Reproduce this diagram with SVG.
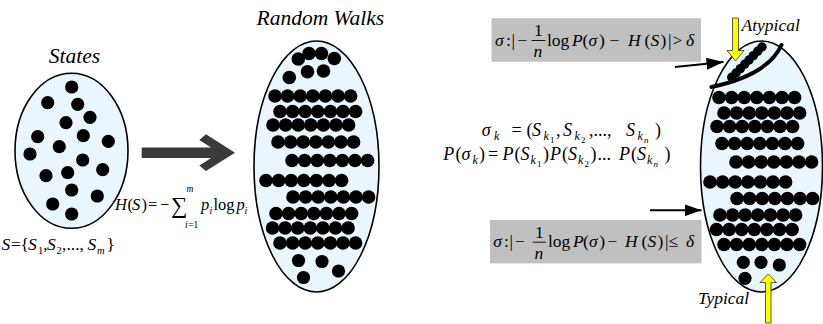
<svg xmlns="http://www.w3.org/2000/svg" width="823" height="324" viewBox="0 0 823 324" font-family="'Liberation Serif','Times New Roman',serif">
<style>
.ell{fill:#EAF6FD;stroke:#000;stroke-width:1.6}
.dot{fill:#000}
.t{font-family:"Liberation Serif","Times New Roman",serif;fill:#000}
.i{font-style:italic}
.box{fill:#C0C0C0}
.yel{fill:#FFFF00;stroke:#333;stroke-width:0.8}
.blk{stroke:#000;stroke-width:2;fill:none}
.bar{stroke:#000;stroke-width:0.9}
</style>
<defs>
<marker id="ah" markerUnits="userSpaceOnUse" markerWidth="17" markerHeight="12" viewBox="0 0 17 12" refX="17" refY="6" orient="auto">
<path d="M0,0 L17,6 L0,12 z" fill="#000"/>
</marker>
<g id="row7" class="dot">
<circle cx="0" cy="0" r="6.8"/><circle cx="12.6" cy="0" r="6.8"/><circle cx="25.2" cy="0" r="6.8"/><circle cx="37.8" cy="0" r="6.8"/><circle cx="50.4" cy="0" r="6.8"/><circle cx="63" cy="0" r="6.8"/><circle cx="75.6" cy="0" r="6.8"/>
</g>
<g id="rows">
<use href="#row7" x="275" y="96"/>
<use href="#row7" x="280" y="111.5"/>
<use href="#row7" x="273" y="125"/>
<use href="#row7" x="278" y="142"/>
<use href="#row7" x="292" y="160.5"/>
<use href="#row7" x="266" y="180.5"/>
<use href="#row7" x="293" y="197"/>
<use href="#row7" x="276" y="213.5"/>
<use href="#row7" x="272.5" y="228"/>
<use href="#row7" x="280" y="243"/>
</g>
</defs>

<g id="states">
<text class="t i" x="74.5" y="63" font-size="21.5" text-anchor="middle">States</text>
<ellipse class="ell" cx="71.5" cy="150.8" rx="56.5" ry="77.5"/>
<g class="dot">
<circle cx="71.7" cy="87" r="6.6"/><circle cx="47.7" cy="102.7" r="6.6"/><circle cx="77.7" cy="104.3" r="6.6"/>
<circle cx="90" cy="117.3" r="6.6"/><circle cx="66" cy="122.7" r="6.6"/><circle cx="37.7" cy="136.7" r="6.6"/>
<circle cx="83.3" cy="135.7" r="6.6"/><circle cx="108.3" cy="141.3" r="6.6"/><circle cx="59.3" cy="146.7" r="6.6"/>
<circle cx="30" cy="154" r="6.6"/><circle cx="82.7" cy="160" r="6.6"/><circle cx="46" cy="175.7" r="6.6"/>
<circle cx="67.7" cy="172.7" r="6.6"/><circle cx="102.7" cy="169.7" r="6.6"/><circle cx="71.7" cy="190" r="6.6"/>
<circle cx="97.3" cy="196" r="6.6"/><circle cx="52.7" cy="204" r="6.6"/><circle cx="71.7" cy="214" r="6.6"/>
</g>
</g>

<g id="state-set" class="t">
<text font-size="17.5">
<tspan class="i" x="1.5" y="250">S</tspan>
<tspan x="11" y="250">=</tspan>
<tspan x="20.5" y="250">{</tspan>
<tspan class="i" x="28" y="250">S</tspan>
<tspan x="38" y="254" font-size="10.5">1</tspan>
<tspan x="43.3" y="250">,</tspan>
<tspan class="i" x="47" y="250">S</tspan>
<tspan x="56.5" y="254" font-size="10.5">2</tspan>
<tspan x="62" y="250">,...,</tspan>
<tspan class="i" x="87.5" y="250">S</tspan>
<tspan class="i" x="97" y="254" font-size="10.5">m</tspan>
<tspan x="106.5" y="250">}</tspan>
</text>
</g>

<g id="entropy" class="t">
<text font-size="16.5">
<tspan class="i" x="115" y="210">H</tspan>
<tspan x="127.5" y="210">(</tspan>
<tspan class="i" x="132" y="210">S</tspan>
<tspan x="141.5" y="210">)</tspan>
<tspan x="148" y="210">=</tspan>
<tspan x="160" y="210">−</tspan>
<tspan x="171" y="213" font-size="23">∑</tspan>
<tspan class="i" x="186.5" y="192" font-size="9.5">m</tspan>
<tspan class="i" x="185" y="227.5" font-size="9.5">i</tspan>
<tspan x="188.2" y="227.5" font-size="9.5">=1</tspan>
<tspan class="i" x="201" y="210">p</tspan>
<tspan class="i" x="209.5" y="213.5" font-size="10">i</tspan>
<tspan x="213.5" y="210">log</tspan>
<tspan class="i" x="236.5" y="210">p</tspan>
<tspan class="i" x="244.5" y="213.5" font-size="10">i</tspan>
</text>
</g>

<g id="random-walks">
<text class="t i" x="256.5" y="25" font-size="21.5">Random Walks</text>
<ellipse class="ell" cx="316.5" cy="166.5" rx="62.5" ry="125.5"/>
<g class="dot">
<circle cx="298.3" cy="59" r="6.8"/><circle cx="309" cy="53.5" r="6.8"/><circle cx="321.5" cy="53.5" r="6.8"/><circle cx="334.3" cy="58.5" r="6.8"/>
<circle cx="289.3" cy="77.5" r="6.8"/><circle cx="307.5" cy="71.7" r="6.8"/><circle cx="323.5" cy="71" r="6.8"/>
<circle cx="298.5" cy="260.5" r="6.6"/><circle cx="322" cy="261.5" r="6.6"/><circle cx="303.5" cy="277.5" r="6.6"/><circle cx="338.5" cy="271" r="6.6"/>
</g>
<use href="#rows"/>
</g>

<g id="typical-set">
<ellipse class="ell" cx="761.5" cy="166.5" rx="61" ry="125.5"/>
<path d="M711.5,87 Q768,75 781.5,45" fill="none" stroke="#000" stroke-width="4" stroke-linecap="round"/>
<g class="dot">
<circle cx="731.7" cy="77.3" r="4.7"/><circle cx="736" cy="73" r="4.7"/><circle cx="740.4" cy="68.6" r="4.7"/><circle cx="744.7" cy="64.3" r="4.7"/>
<circle cx="749" cy="60" r="4.7"/><circle cx="753.4" cy="55.6" r="4.7"/><circle cx="757.7" cy="51.3" r="4.7"/><circle cx="762" cy="47" r="4.7"/>
<circle cx="743.3" cy="262.3" r="6.6"/><circle cx="761" cy="262.3" r="6.6"/><circle cx="779.3" cy="265" r="6.6"/><circle cx="745" cy="278.3" r="6.6"/>
</g>
<use href="#rows" x="444" y="1.5"/>
</g>

<g id="sequence-formula" class="t">
<text font-size="18">
<tspan class="i" x="481.7" y="136">σ</tspan>
<tspan class="i" x="494" y="140" font-size="12">k</tspan>
<tspan x="511.5" y="136">=</tspan>
<tspan x="526.5" y="136">(</tspan>
<tspan class="i" x="532" y="136">S</tspan>
<tspan class="i" x="543.5" y="140" font-size="12">k</tspan>
<tspan x="550" y="142.5" font-size="9">1</tspan>
<tspan x="556" y="136">,</tspan>
<tspan class="i" x="563" y="136">S</tspan>
<tspan class="i" x="574.5" y="140" font-size="12">k</tspan>
<tspan x="581" y="142.5" font-size="9">2</tspan>
<tspan x="589" y="136">,...,</tspan>
<tspan class="i" x="626" y="136">S</tspan>
<tspan class="i" x="637.5" y="140" font-size="12">k</tspan>
<tspan class="i" x="644" y="142.5" font-size="9">n</tspan>
<tspan x="655" y="136">)</tspan>
</text>
<text font-size="18">
<tspan class="i" x="443.3" y="160">P</tspan>
<tspan x="455.5" y="160">(</tspan>
<tspan class="i" x="461.5" y="160">σ</tspan>
<tspan class="i" x="472.5" y="164" font-size="12">k</tspan>
<tspan x="479" y="160">)</tspan>
<tspan x="488" y="160">=</tspan>
<tspan class="i" x="502.5" y="160">P</tspan>
<tspan x="514.5" y="160">(</tspan>
<tspan class="i" x="520.5" y="160">S</tspan>
<tspan class="i" x="530.5" y="164" font-size="12">k</tspan>
<tspan x="537" y="166.5" font-size="9">1</tspan>
<tspan x="543" y="160">)</tspan>
<tspan class="i" x="550" y="160">P</tspan>
<tspan x="562" y="160">(</tspan>
<tspan class="i" x="568" y="160">S</tspan>
<tspan class="i" x="578" y="164" font-size="12">k</tspan>
<tspan x="584.5" y="166.5" font-size="9">2</tspan>
<tspan x="590.5" y="160">)</tspan>
<tspan x="597.5" y="160">...</tspan>
<tspan class="i" x="619" y="160">P</tspan>
<tspan x="631" y="160">(</tspan>
<tspan class="i" x="637" y="160">S</tspan>
<tspan class="i" x="647" y="164" font-size="12">k</tspan>
<tspan class="i" x="653.5" y="166.5" font-size="9">n</tspan>
<tspan x="664.5" y="160">)</tspan>
</text>
</g>

<g id="atypical-condition">
<rect class="box" x="491.5" y="18.3" width="209.5" height="43.4"/>
<line class="bar" x1="531.5" y1="40.5" x2="545.5" y2="40.5"/>
<text class="t" font-size="17.5">
<tspan class="i" x="495" y="45.5">σ</tspan>
<tspan x="506" y="45.5">:</tspan>
<tspan x="511.5" y="45.5">|</tspan>
<tspan x="517.5" y="45.5">−</tspan>
<tspan x="534" y="36">1</tspan>
<tspan class="i" x="533.5" y="57">n</tspan>
<tspan x="547" y="45.5">log</tspan>
<tspan class="i" x="572" y="45.5">P</tspan>
<tspan x="582.5" y="45.5">(</tspan>
<tspan class="i" x="588.5" y="45.5">σ</tspan>
<tspan x="599" y="45.5">)</tspan>
<tspan x="609.5" y="45.5">−</tspan>
<tspan class="i" x="628" y="45.5">H</tspan>
<tspan x="644.5" y="45.5">(</tspan>
<tspan class="i" x="650.5" y="45.5">S</tspan>
<tspan x="660.5" y="45.5">)</tspan>
<tspan x="668" y="45.5">|</tspan>
<tspan x="672.5" y="45.5">&gt;</tspan>
<tspan class="i" x="686" y="45.5">δ</tspan>
</text>
</g>

<g id="typical-condition">
<rect class="box" x="490" y="220" width="211.5" height="43.4"/>
<line class="bar" x1="532.7" y1="242.2" x2="546" y2="242.2"/>
<text class="t" font-size="17.5">
<tspan class="i" x="493.3" y="247.2">σ</tspan>
<tspan x="504" y="247.2">:</tspan>
<tspan x="509.5" y="247.2">|</tspan>
<tspan x="515" y="247.2">−</tspan>
<tspan x="535" y="237.7">1</tspan>
<tspan class="i" x="534.5" y="258.7">n</tspan>
<tspan x="548" y="247.2">log</tspan>
<tspan class="i" x="573" y="247.2">P</tspan>
<tspan x="583" y="247.2">(</tspan>
<tspan class="i" x="589" y="247.2">σ</tspan>
<tspan x="599.3" y="247.2">)</tspan>
<tspan x="607.5" y="247.2">−</tspan>
<tspan class="i" x="625" y="247.2">H</tspan>
<tspan x="641.5" y="247.2">(</tspan>
<tspan class="i" x="647.5" y="247.2">S</tspan>
<tspan x="657.5" y="247.2">)</tspan>
<tspan x="665" y="247.2">|</tspan>
<tspan x="668.5" y="247.2">≤</tspan>
<tspan class="i" x="686" y="247.2">δ</tspan>
</text>
</g>

<g id="label-atypical"><text class="t i" x="741.5" y="31" font-size="17.5">Atypical</text></g>
<g id="label-typical"><text class="t i" x="698" y="304" font-size="17.5">Typical</text></g>

<g id="connectors">
<polygon fill="#3A3A3A" points="141.7,147.5 211.1,147.5 199.3,140 206,134.3 235,152.7 206,171.1 199.3,165.4 211.1,157.9 141.7,157.9"/>
<line class="blk" x1="675" y1="67" x2="723.5" y2="62" marker-end="url(#ah)"/>
<line class="blk" x1="650" y1="210.3" x2="701.5" y2="210.3" marker-end="url(#ah)"/>
<polygon class="yel" points="732.5,18 738.5,18 738.5,50.5 744,50.5 735.5,61 727,50.5 732.5,50.5"/>
<polygon class="yel" points="765.5,323 771,323 771,282.5 776.5,282.5 768.3,274 760,282.5 765.5,282.5"/>
</g>
</svg>
